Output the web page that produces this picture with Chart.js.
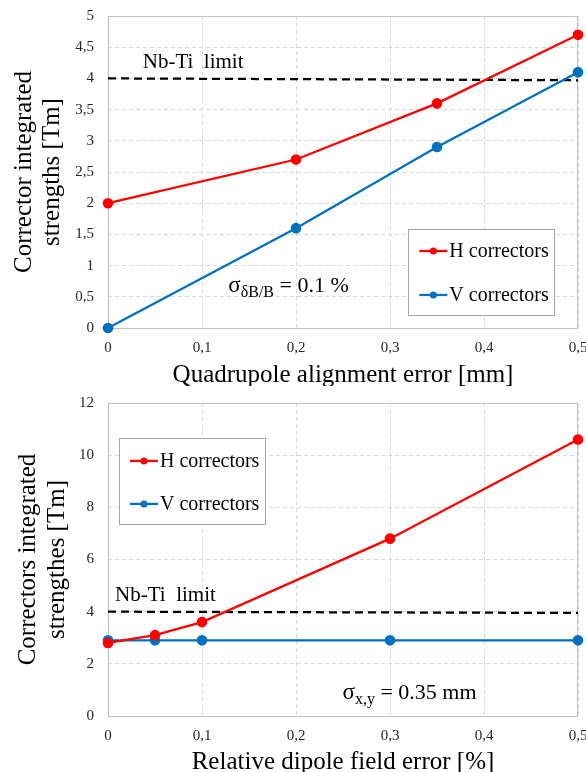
<!DOCTYPE html>
<html><head><meta charset="utf-8">
<script src="https://cdn.jsdelivr.net/npm/chart.js@4"></script>
<style>
html,body{margin:0;padding:0;background:#fff;width:586px;height:772px;overflow:hidden}
#c1{position:absolute;left:0;top:0}
#c2{position:absolute;left:0;top:386px}
</style></head><body>
<canvas id="c1" width="586" height="386"></canvas>
<canvas id="c2" width="586" height="386"></canvas>
<script>
// ---- data ----
const alignErr = [0, 0.2, 0.35, 0.5];
const topH = [2.0, 2.7, 3.6, 4.7];
const topV = [0.0, 1.6, 2.9, 4.1];
const limitX = [0, 0.5];
const topLimit = [4.0, 3.97];
const dipoleErr = [0, 0.05, 0.1, 0.3, 0.5];
const botH = [2.8, 3.1, 3.6, 6.8, 10.6];
const botV = [2.9, 2.9, 2.9, 2.9, 2.9];
const botLimit = [4.0, 3.95];
const topYTicks = ['0','0,5','1','1,5','2','2,5','3','3,5','4','4,5','5'];
const botYTicks = ['0','2','4','6','8','10','12'];
const xTicks = ['0','0,1','0,2','0,3','0,4','0,5'];
const seriesLabels = ['H correctors','V correctors'];
const limitLabel = 'Nb-Ti  limit';

const RED = '#ff0000', BLUE = '#0070c0';
const SERIF = '"Liberation Serif", "Times New Roman", serif';

function pts(xs, ys){ return xs.map((x,i)=>({x:x, y:ys[i]})); }

const framePlugin = {
  id: 'frame',
  beforeDatasetsDraw(chart){
    const {ctx, chartArea:a} = chart;
    ctx.save();
    ctx.strokeStyle = '#bfbfbf';
    ctx.lineWidth = 1;
    ctx.setLineDash([]);
    ctx.strokeRect(Math.round(a.left)+0.5, Math.round(a.top)+0.5, Math.round(a.right-a.left)-1, Math.round(a.bottom-a.top));
    ctx.restore();
  }
};

const notesPlugin = {
  id: 'notes',
  afterDatasetsDraw(chart, args, o){
    const {ctx} = chart;
    const xs = chart.scales.x, ys = chart.scales.y;
    ctx.save();
    ctx.fillStyle = '#000';
    ctx.textBaseline = 'alphabetic';
    ctx.textAlign = 'left';
    // Nb-Ti limit label
    ctx.font = '21px ' + SERIF;
    ctx.fillText(limitLabel, xs.getPixelForValue(o.limitAt[0]), ys.getPixelForValue(o.limitAt[1]));
    // sigma annotation
    let x = xs.getPixelForValue(o.sigmaAt[0]);
    const y = ys.getPixelForValue(o.sigmaAt[1]);
    ctx.font = '23px ' + SERIF;
    ctx.fillText('σ', x, y);
    x += ctx.measureText('σ').width;
    ctx.font = '16px ' + SERIF;
    ctx.fillText(o.sigmaSub, x, y + 5);
    x += ctx.measureText(o.sigmaSub).width;
    ctx.font = '22px ' + SERIF;
    ctx.fillText(o.sigmaRest, x, y);
    // legend
    const lx = xs.getPixelForValue(o.legendAt[0]);
    const ly = ys.getPixelForValue(o.legendAt[1]);
    ctx.fillStyle = '#fff';
    ctx.fillRect(lx, ly, 146, 86);
    ctx.strokeStyle = '#a6a6a6';
    ctx.lineWidth = 1;
    ctx.strokeRect(Math.round(lx)+0.5, Math.round(ly)+0.5, 146, 86);
    ctx.font = '20px ' + SERIF;
    ctx.textBaseline = 'middle';
    o.rows.forEach((ry, i) => {
      const ds = chart.data.datasets[i];
      const cy = ly + ry;
      ctx.strokeStyle = ds.borderColor;
      ctx.lineWidth = 2.25;
      ctx.beginPath(); ctx.moveTo(lx + 11, cy); ctx.lineTo(lx + 39, cy); ctx.stroke();
      ctx.fillStyle = ds.borderColor;
      ctx.beginPath(); ctx.arc(lx + 25, cy, 3.5, 0, Math.PI*2); ctx.fill();
      ctx.fillStyle = '#000';
      ctx.fillText(ds.label, lx + 41, cy + 1);
    });
    ctx.restore();
  }
};

function makeChart(id, cfg){
  return new Chart(document.getElementById(id), {
    type: 'line',
    data: { datasets: [
      { label: seriesLabels[0], data: cfg.h, borderColor: RED, backgroundColor: RED, borderWidth: 2.25, pointRadius: 4.2, pointHoverRadius: 4.2, tension: 0, clip: false },
      { label: seriesLabels[1], data: cfg.v, borderColor: BLUE, backgroundColor: BLUE, borderWidth: 2.25, pointRadius: 4.2, pointHoverRadius: 4.2, tension: 0, clip: false },
      { label: limitLabel, data: cfg.limit, borderColor: '#000', borderWidth: 2.25, borderDash: [8, 5], pointRadius: 0, tension: 0, clip: false }
    ]},
    options: {
      responsive: false, animation: false, devicePixelRatio: 1,
      layout: { padding: { top: cfg.padTop, right: 8, left: 0, bottom: 0 } },
      plugins: { legend: { display: false }, tooltip: { enabled: false }, notes: cfg.notes },
      scales: {
        x: {
          type: 'linear', min: 0, max: 0.5,
          afterFit(s){ s.height = cfg.xHeight; s.paddingLeft = 0; s.paddingRight = 0; },
          ticks: { stepSize: 0.1, padding: 11, color: '#262626', font: { family: SERIF, size: 15 },
                   callback: (v, i) => xTicks[i], maxRotation: 0, autoSkip: false },
          grid: { color: '#d9d9d9', lineWidth: 1, drawTicks: false },
          border: { display: false, dash: [4, 3] },
          title: { display: true, text: cfg.xTitle, color: '#000', font: { family: SERIF, size: 25, lineHeight: 1.0 }, padding: { top: 0, bottom: cfg.xTitlePad } }
        },
        y: {
          type: 'linear', min: 0, max: cfg.yMax,
          afterFit(s){ s.width = 108; s.paddingTop = 0; s.paddingBottom = 0; },
          ticks: { stepSize: cfg.yStep, padding: 14, color: '#262626', font: { family: SERIF, size: 15 },
                   callback: (v, i) => cfg.yTicks[i], autoSkip: false },
          grid: { color: '#d9d9d9', lineWidth: 1, drawTicks: false },
          border: { display: false, dash: [4, 3] },
          title: { display: true, text: cfg.yTitle, color: '#000', font: { family: SERIF, size: 25, lineHeight: 1.15 }, padding: { top: cfg.yTitlePad, bottom: 0 } }
        }
      }
    },
    plugins: [framePlugin, notesPlugin]
  });
}

makeChart('c1', {
  h: pts(alignErr, topH), v: pts(alignErr, topV), limit: pts(limitX, topLimit),
  padTop: 16, xHeight: 58, yMax: 5, yStep: 0.5, yTicks: topYTicks,
  xTitle: 'Quadrupole alignment error [mm]', xTitlePad: -1.5,
  yTitle: ['Corrector integrated', 'strengths [Tm]'], yTitlePad: 9.6,
  notes: { limitAt: [0.037, 4.17], sigmaAt: [0.128, 0.58], sigmaSub: 'δB/B', sigmaRest: ' = 0.1 %',
           legendAt: [0.3195, 1.587], rows: [22, 66] }
});

makeChart('c2', {
  h: pts(dipoleErr, botH), v: pts(dipoleErr, botV), limit: pts(limitX, botLimit),
  padTop: 17, xHeight: 56, yMax: 12, yStep: 2, yTicks: botYTicks,
  xTitle: 'Relative dipole field error [%]', xTitlePad: -2.5,
  yTitle: ['Correctors integrated', 'strengthes [Tm]'], yTitlePad: 14,
  notes: { limitAt: [0.0075, 4.41], sigmaAt: [0.2495, 0.65], sigmaSub: 'x,y', sigmaRest: ' = 0.35 mm',
           legendAt: [0.0117, 10.66], rows: [23, 66] }
});
</script>
</body></html>
